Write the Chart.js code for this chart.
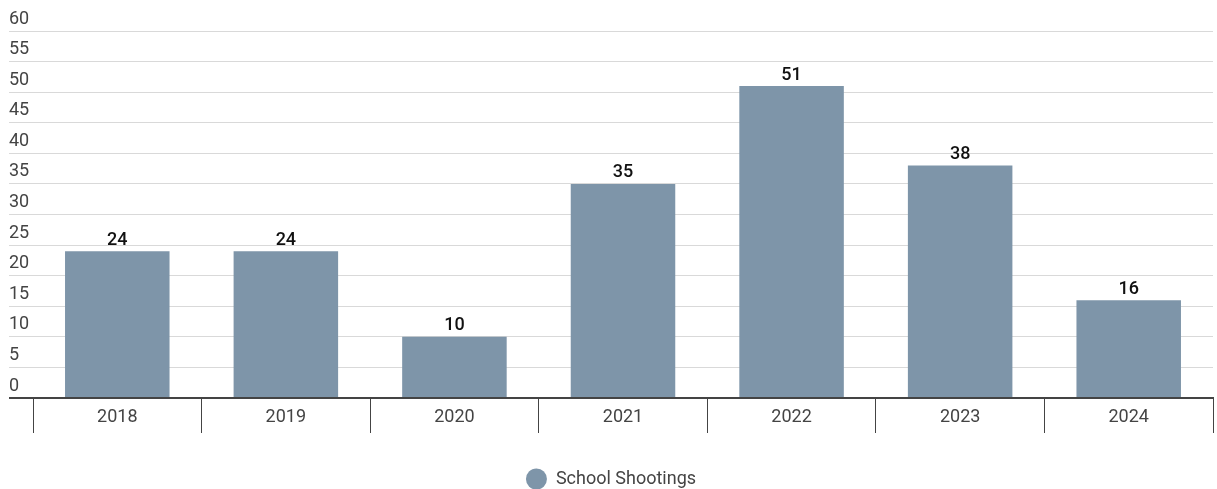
<!DOCTYPE html>
<html>
<head>
<meta charset="utf-8">
<script src="https://cdn.jsdelivr.net/npm/chart.js@4"></script>
<style>
  html, body { margin: 0; padding: 0; background: #fff; }
  #wrap { width: 1217px; height: 489px; position: relative; }
</style>
</head>
<body>
<div id="wrap"><canvas id="chart"></canvas></div>
<script>
const years = ["2018", "2019", "2020", "2021", "2022", "2023", "2024"];
const shootings = [24, 24, 10, 35, 51, 38, 16];
const yTicks = [0, 5, 10, 15, 20, 25, 30, 35, 40, 45, 50, 55, 60];

const barColor = "#7e95a9";
const textColor = "#444";

// value labels above each bar
const valueLabels = {
  id: "valueLabels",
  afterDatasetsDraw(chart) {
    const ctx = chart.ctx;
    const meta = chart.getDatasetMeta(0);
    ctx.save();
    ctx.font = "500 18px Roboto";
    ctx.fillStyle = "#111";
    ctx.textAlign = "center";
    ctx.textBaseline = "bottom";
    meta.data.forEach((bar, i) => {
      ctx.fillText(String(shootings[i]), bar.x, bar.y - 2);
    });
    ctx.restore();
  }
};

new Chart(document.getElementById("chart"), {
  type: "bar",
  data: {
    labels: years,
    datasets: [{
      label: "School Shootings",
      data: shootings,
      backgroundColor: barColor,
      barPercentage: 0.62,
      categoryPercentage: 1
    }]
  },
  options: {
    responsive: true,
    maintainAspectRatio: false,
    animation: false,
    layout: { padding: { top: 31, left: 9, right: 4, bottom: -9 } },
    plugins: {
      tooltip: { enabled: false },
      legend: {
        position: "bottom",
        labels: {
          usePointStyle: true,
          pointStyle: "circle",
          boxHeight: 15,
          pointStyleWidth: 21,
          padding: 6,
          color: textColor,
          font: { family: "Roboto", size: 18 }
        }
      }
    },
    scales: {
      x: {
        offset: true,
        grid: {
          offset: true,
          drawOnChartArea: false,
          drawTicks: true,
          tickLength: 35,
          color: "#444",
          lineWidth: 1
        },
        border: { display: true, color: "#444", width: 2 },
        ticks: {
          color: textColor,
          font: { family: "Roboto", size: 18 },
          padding: -26
        },
        afterFit(scale) { scale.height = 66; }
      },
      y: {
        min: 0,
        max: 60,
        afterBuildTicks(scale) {
          scale.ticks = yTicks.map(v => ({ value: v }));
        },
        afterFit(scale) { scale.width = 24; },
        grid: {
          drawTicks: true,
          tickLength: 24,
          color: ctx => (ctx.tick && ctx.tick.value === 0) ? "#444" : "#d9d9d9",
          lineWidth: ctx => (ctx.tick && ctx.tick.value === 0) ? 2 : 1
        },
        border: { display: false },
        ticks: {
          mirror: true,
          padding: -24,
          labelOffset: -12,
          color: textColor,
          font: { family: "Roboto", size: 18 }
        }
      }
    }
  },
  plugins: [valueLabels]
});
</script>
</body>
</html>
